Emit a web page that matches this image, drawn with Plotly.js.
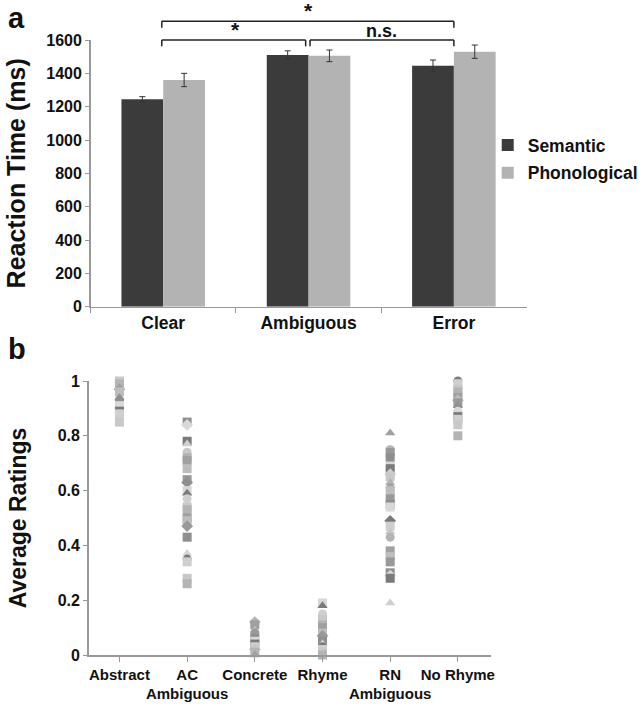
<!DOCTYPE html>
<html>
<head>
<meta charset="utf-8">
<script src="https://cdn.plot.ly/plotly-3.0.1.min.js"></script>
<style>
html,body{margin:0;padding:0;background:#fff;}
#chart{width:643px;height:706px;}
</style>
</head>
<body>
<div id="chart"></div>
<script>
// ---- Panel a data ----
const conditions = ['Clear', 'Ambiguous', 'Error'];
const semanticRT = [1245, 1510, 1445];
const semanticErr = [15, 25, 35];
const phonologicalRT = [1360, 1505, 1530];
const phonologicalErr = [40, 35, 40];
// comparisons: [fromIndex, toIndex, level, label]
const compFrom = [0, 1, 0];
const compTo = [1, 2, 2];
const compLevel = [0, 0, 1];
const compLabel = ['*', 'n.s.', '*'];

// ---- Panel b data ----
const ratingCategories = ['Abstract', 'AC<br>Ambiguous', 'Concrete', 'Rhyme', 'RN<br>Ambiguous', 'No Rhyme'];
const abstractRatings = [1.0, 0.99, 0.97, 0.96, 0.94, 0.93, 0.91, 0.89, 0.88, 0.85];
const acAmbiguousRatings = [0.85, 0.84, 0.78, 0.77, 0.74, 0.72, 0.71, 0.68, 0.64, 0.63, 0.60, 0.59, 0.57, 0.54, 0.53, 0.50, 0.49, 0.47, 0.43, 0.37, 0.35, 0.34, 0.28, 0.26];
const concreteRatings = [0.12, 0.11, 0.09, 0.08, 0.06, 0.05, 0.04, 0.03, 0.02, 0.01, 0.0];
const rhymeRatings = [0.19, 0.18, 0.15, 0.13, 0.11, 0.10, 0.08, 0.07, 0.05, 0.04, 0.03, 0.02, 0.01, 0.0];
const rnAmbiguousRatings = [0.81, 0.75, 0.74, 0.72, 0.69, 0.68, 0.66, 0.65, 0.63, 0.61, 0.60, 0.57, 0.55, 0.54, 0.49, 0.47, 0.45, 0.43, 0.38, 0.36, 0.34, 0.30, 0.29, 0.28, 0.19];
const noRhymeRatings = [1.0, 0.99, 0.97, 0.96, 0.94, 0.93, 0.92, 0.91, 0.89, 0.87, 0.86, 0.84, 0.80];
const allRatings = [abstractRatings, acAmbiguousRatings, concreteRatings, rhymeRatings, rnAmbiguousRatings, noRhymeRatings];

// ---- styles ----
const W = 643, H = 706;
const boldFont = (size) => ({family: 'Liberation Sans, Arial, sans-serif', size: size, color: '#111', weight: 'bold'});
const symCycle = ['square', 'square', 'diamond', 'square', 'triangle-up', 'circle', 'square', 'square'];
const colCycle = ['#c8c8c8', '#8f8f8f', '#b4b4b4', '#d8d8d8', '#a0a0a0', '#7a7a7a', '#bdbdbd', '#cfcfcf', '#999999'];

const traces = [];
traces.push({
  type: 'bar', name: 'Semantic', x: conditions, y: semanticRT, legendgroup: 'sem',
  marker: {color: '#3b3b3b'},
  error_y: {type: 'data', array: semanticErr, visible: true, color: '#333', thickness: 1, width: 3},
  xaxis: 'x', yaxis: 'y'
});
traces.push({
  type: 'bar', name: 'Phonological', x: conditions, y: phonologicalRT, legendgroup: 'pho',
  marker: {color: '#b3b3b3'},
  error_y: {type: 'data', array: phonologicalErr, visible: true, color: '#333', thickness: 1, width: 3},
  xaxis: 'x', yaxis: 'y'
});

allRatings.forEach((vals, ci) => {
  traces.push({
    type: 'scatter', mode: 'markers',
    x: vals.map(() => ci), y: vals,
    marker: {
      size: 9,
      symbol: vals.map((v, i) => symCycle[(i + ci) % symCycle.length]),
      color: vals.map((v, i) => colCycle[(i * 2 + ci) % colCycle.length]),
      line: {width: 0}
    },
    cliponaxis: false,
    showlegend: false,
    xaxis: 'x2', yaxis: 'y2', hoverinfo: 'y'
  });
});

// domains (paper)
const yDomA = [1 - 306.7 / H, 1 - 40 / H];
const yDomB = [1 - 655 / H, 1 - 381 / H];
const yMaxA = 1600;
const yPaperA = (v) => yDomA[0] + v / yMaxA * (yDomA[1] - yDomA[0]);

const shapes = [];
const annotations = [];
const levelY = [1600, 1712];
const tickDrop = 38;
for (let k = 0; k < compFrom.length; k++) {
  const yv = levelY[compLevel[k]];
  const x0 = compFrom[k] + (compLevel[k] === 0 && compFrom[k] > 0 ? 0.01 : -0.01);
  const x1 = compTo[k] - (compLevel[k] === 0 && compTo[k] === 1 ? 0.02 : 0);
  const yl = {type: 'line', xref: 'x', yref: 'paper', line: {color: '#222', width: 1.5}};
  shapes.push(Object.assign({}, yl, {x0: x0, x1: x1, y0: yPaperA(yv), y1: yPaperA(yv)}));
  shapes.push(Object.assign({}, yl, {x0: x0, x1: x0, y0: yPaperA(yv), y1: yPaperA(yv - tickDrop)}));
  shapes.push(Object.assign({}, yl, {x0: x1, x1: x1, y0: yPaperA(yv), y1: yPaperA(yv - tickDrop)}));
  annotations.push({
    xref: 'x', yref: 'paper', x: (compFrom[k] + compTo[k]) / 2, y: yPaperA(yv),
    text: compLabel[k], showarrow: false, yanchor: 'bottom', yshift: -3,
    font: boldFont(compLabel[k] === '*' ? 21 : 18)
  });
}
annotations.push({xref: 'paper', yref: 'paper', x: 6 / W, y: 1 - 0 / H, xanchor: 'left', yanchor: 'top', text: 'a', showarrow: false, font: boldFont(29)});
annotations.push({xref: 'paper', yref: 'paper', x: 6 / W, y: 1 - 331 / H, xanchor: 'left', yanchor: 'top', text: 'b', showarrow: false, font: boldFont(29)});

const axisLine = '#999';
const layout = {
  width: W, height: H,
  margin: {l: 0, r: 0, t: 0, b: 0},
  paper_bgcolor: '#fff', plot_bgcolor: '#fff',
  barmode: 'group', bargap: 0.425, bargroupgap: 0,
  showlegend: true,
  legend: {x: 490 / W, y: 1 - 127 / H, xanchor: 'left', yanchor: 'top', font: boldFont(17.5), traceorder: 'grouped', tracegroupgap: 2, itemwidth: 30, bgcolor: 'rgba(0,0,0,0)'},
  xaxis: {
    domain: [91 / W, 529 / W], anchor: 'y', type: 'category', range: [-0.5, 2.5],
    showline: true, linecolor: axisLine, linewidth: 1.5, ticks: 'outside', tickson: 'boundaries', ticklen: 5, tickcolor: axisLine,
    tickfont: boldFont(17.5), showgrid: false, zeroline: false, fixedrange: true
  },
  yaxis: {
    domain: yDomA, anchor: 'x', range: [0, 1600], dtick: 200,
    showline: true, linecolor: axisLine, linewidth: 1.5, ticks: 'outside', ticklen: 4, tickcolor: axisLine,
    tickfont: boldFont(16), showgrid: false, zeroline: false,
    title: {text: 'Reaction Time (ms)', font: boldFont(25), standoff: 13}
  },
  xaxis2: {
    domain: [89 / W, 493 / W], anchor: 'y2', range: [-0.456, 5.485],
    tickvals: [0, 1, 2, 3, 4, 5], ticktext: ratingCategories, tickangle: 0,
    showline: true, linecolor: axisLine, linewidth: 1.5, ticks: 'outside', ticklen: 5, tickcolor: axisLine,
    tickfont: boldFont(15), showgrid: false, zeroline: false
  },
  yaxis2: {
    domain: yDomB, anchor: 'x2', range: [0, 1], dtick: 0.2,
    tickvals: [0, 0.2, 0.4, 0.6, 0.8, 1], ticktext: ['0', '0.2', '0.4', '0.6', '0.8', '1'],
    showline: true, linecolor: axisLine, linewidth: 1.5, ticks: 'outside', ticklen: 4, tickcolor: axisLine,
    tickfont: boldFont(16), showgrid: false, zeroline: false,
    title: {text: 'Average Ratings', font: boldFont(23), standoff: 24}
  },
  shapes: shapes,
  annotations: annotations
};

Plotly.newPlot('chart', traces, layout, {displayModeBar: false, staticPlot: true});
</script>
</body>
</html>
